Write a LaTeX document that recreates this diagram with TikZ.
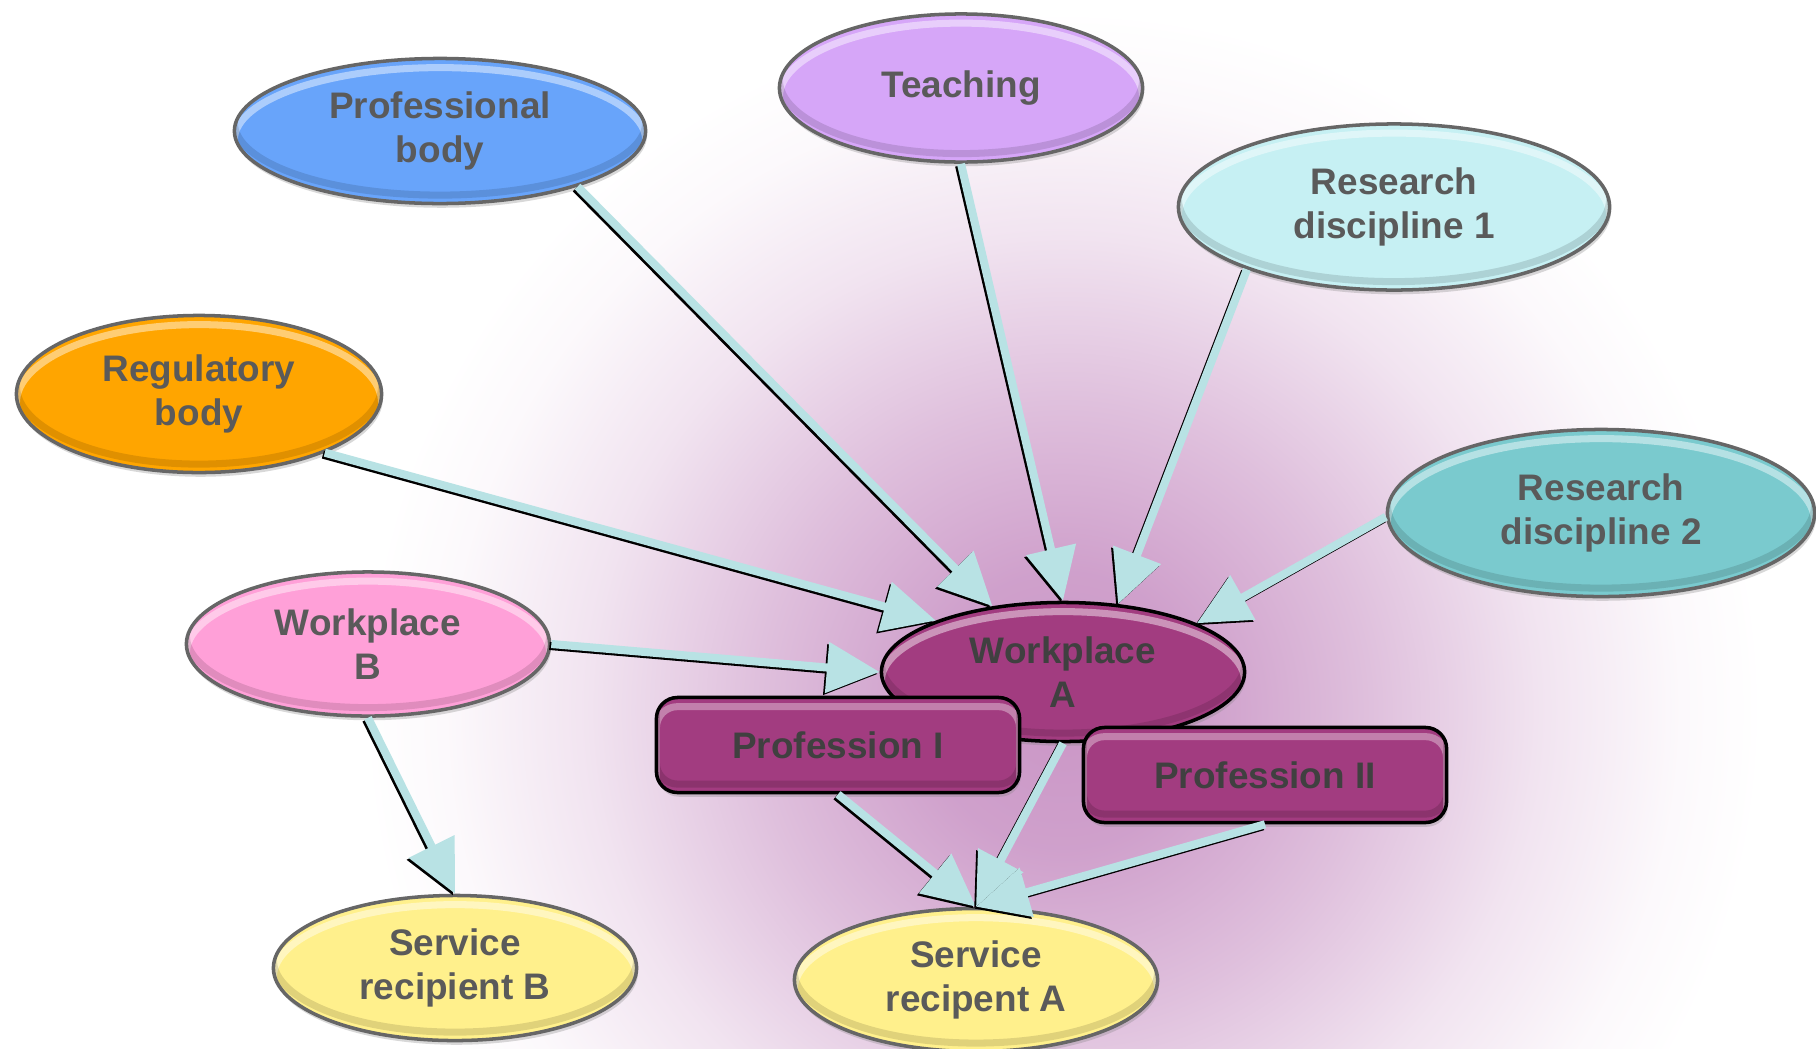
\documentclass[tikz,border=0pt]{standalone}
\usepackage{fontspec}
\setmainfont{Liberation Sans}
\usetikzlibrary{arrows.meta,shapes.geometric,shadows,calc}

\definecolor{glow}{RGB}{202,150,198}
\definecolor{flowcyan}{RGB}{184,226,228}
\definecolor{txtgray}{RGB}{90,90,90}
\definecolor{txtdark}{RGB}{64,64,64}
\definecolor{profblue}{RGB}{104,164,250}
\definecolor{teachlilac}{RGB}{214,166,248}
\definecolor{resone}{RGB}{198,240,243}
\definecolor{regorange}{RGB}{255,165,0}
\definecolor{restwo}{RGB}{122,202,206}
\definecolor{wbpink}{RGB}{255,160,216}
\definecolor{wapurple}{RGB}{162,60,128}
\definecolor{srvyellow}{RGB}{255,240,140}

\pgfdeclareradialshading{glowshade}{\pgfpoint{0bp}{0bp}}{%
	color(0bp)=(glow); color(5bp)=(glow!90!white);
	color(11bp)=(glow!60!white); color(17bp)=(glow!26!white);
	color(22bp)=(glow!6!white); color(25bp)=(white); color(50bp)=(white)}

\tikzset{
	bubble/.style={ellipse, draw=black!60, line width=1pt, text=txtgray,
		font=\fontsize{10.5}{12.3}\selectfont\bfseries, align=center,
		minimum width=3.63cm, minimum height=1.44cm,
		drop shadow={opacity=0.3, shadow xshift=0.4pt, shadow yshift=-1.2pt},
		path picture={
			\draw[white, opacity=0.45, line width=2pt]
				let \p1=(path picture bounding box.north east),
				\p2=(path picture bounding box.center) in
				([yshift=-2.6pt]\p2) ellipse ({\x1-\x2} and {\y1-\y2});
			\draw[black, opacity=0.12, line width=2pt]
				let \p1=(path picture bounding box.north east),
				\p2=(path picture bounding box.center) in
				([yshift=2.4pt]\p2) ellipse ({\x1-\x2} and {\y1-\y2});
		}},
	profbox/.style={rectangle, rounded corners=6pt, draw=black, line width=1pt,
		fill=wapurple, text=txtdark,
		font=\fontsize{10.5}{12.3}\selectfont\bfseries,
		minimum width=3.63cm, minimum height=0.95cm,
		drop shadow={opacity=0.3, shadow xshift=0.4pt, shadow yshift=-1.2pt},
		path picture={
			\draw[white, opacity=0.35, line width=2pt, rounded corners=6pt]
				([yshift=-2.6pt]path picture bounding box.south west) rectangle
				([yshift=-2.6pt]path picture bounding box.north east);
			\draw[black, opacity=0.14, line width=2pt, rounded corners=6pt]
				([yshift=2.4pt]path picture bounding box.south west) rectangle
				([yshift=2.4pt]path picture bounding box.north east);
		}},
	flow/.style={draw=flowcyan, line width=2.3pt,
		-{Triangle[length=15pt,width=14pt]},
		preaction={draw=black, line width=2.3pt,
			transform canvas={shift={(-0.55pt,-0.55pt)}}}}
}

\begin{document}
\begin{tikzpicture}[x=0.01cm, y=-0.01cm]
	\useasboundingbox (0,0) rectangle (1816,1048);
	\begin{scope}
		\clip (0,0) rectangle (1816,1048);
		\fill[white] (0,0) rectangle (1816,1048);
		\shade[shading=glowshade] (1063,710) circle (700);
	\end{scope}

	% outer ring
	\node[bubble, fill=profblue, minimum width=4.11cm, minimum height=1.45cm] (pb) at (440,131) {Professional\\body};
	\node[bubble, fill=teachlilac, minimum height=1.48cm] (teach) at (961,88) {Teaching};
	\node[bubble, fill=resone, minimum width=4.31cm, minimum height=1.66cm] (rd1) at (1394,207) {Research\\discipline 1};
	\node[bubble, fill=regorange, minimum width=3.65cm, minimum height=1.57cm] (reg) at (199,394) {Regulatory\\body};
	\node[bubble, fill=restwo, minimum width=4.27cm, minimum height=1.67cm] (rd2) at (1601,513) {Research\\discipline 2};
	\node[bubble, fill=wbpink] (wpB) at (368,644) {Workplace\\B};

	% centre
	\node[bubble, fill=wapurple, draw=black, text=txtdark, minimum height=1.39cm] (wpA) at (1063,672) {Workplace\\A};
	\node[profbox] (p1) at (838,745) {Profession I};
	\node[profbox] (p2) at (1265,775) {Profession II};

	% recipients
	\node[bubble, fill=srvyellow, minimum height=1.45cm] (srB) at (455,968) {Service\\recipient B};
	\node[bubble, fill=srvyellow, minimum height=1.37cm] (srA) at (976,980) {Service\\recipent A};

	\draw[flow] (pb.-22) -- (wpA.137);
	\draw[flow] (teach.south) -- (wpA.north);
	\draw[flow] (rd1.-157) -- (wpA.51);
	\draw[flow] (reg.-25) -- (wpA.158);
	\draw[flow] (rd2.181) -- (wpA.20);
	\draw[flow] (wpB.east) -- (wpA.west);
	\draw[flow] (wpB.south) -- (srB.north);
	\draw[flow] (p1.south) -- (srA.north);
	\draw[flow] (wpA.south) -- (srA.north);
	\draw[flow] (p2.south) -- (srA.north);

\end{tikzpicture}
\end{document}
